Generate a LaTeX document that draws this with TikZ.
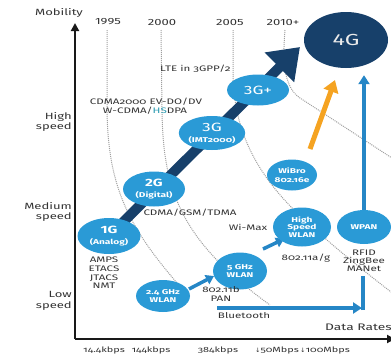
\documentclass[tikz,border=0pt]{standalone}
\usepackage{fontspec}
\setmainfont{Fira Sans}[FakeStretch=1.45]
\newfontfamily\osf{Fira Sans}[Numbers=OldStyle,FakeStretch=1.45]
\newfontfamily\symf{DejaVu Sans}[FakeStretch=1.1]
\usetikzlibrary{arrows.meta,shapes.geometric}
\definecolor{navy}{HTML}{17406A}
\definecolor{lblue}{HTML}{2A9AD6}
\definecolor{ablue}{HTML}{2586C6}
\definecolor{orng}{HTML}{F5A321}
\definecolor{txt}{HTML}{333333}
\definecolor{dots}{HTML}{A0A0A0}
\definecolor{teal2}{HTML}{2A9AB0}
\pgfdeclarelayer{bg}
\pgfdeclarelayer{mid}
\pgfsetlayers{bg,mid,main}
\tikzset{
  lbl/.style={font=\fontsize{8}{8.6}\selectfont\osf, text=txt, align=center, inner sep=0pt},
  axlbl/.style={font=\fontsize{9}{10.5}\selectfont, text=txt, align=right, inner sep=0pt, anchor=east},
  yr/.style={font=\fontsize{9}{10}\selectfont, text=txt, inner sep=0pt},
  gen/.style={ellipse, fill=lblue, text=white, inner sep=0pt, align=center},
  small/.style={font=\fontsize{7}{8.8}\selectfont\bfseries\osf},
  dotline/.style={draw=dots, densely dotted, line width=1pt},
  axis/.style={draw=black!90, line width=2.5pt, -{Triangle[length=8pt,width=8pt]}},
  barrow/.style={draw=ablue, line width=4pt, -{Triangle[length=9pt,width=11pt]}},
}
\begin{document}
\begin{tikzpicture}[x=1pt,y=-1pt]
\useasboundingbox (0,0) rectangle (391,357);

% axes
\coordinate (o) at (75,339);
\coordinate (ytip) at (75,23);
\coordinate (xtip) at (395,339);
\draw[axis] (o) -- (ytip);
\draw[axis] (o) -- (xtip);
\node[yr] (mob) at (59,13) {Mobility};
\node[font=\fontsize{9.5}{10}\selectfont, text=txt, anchor=west, inner sep=0pt] (dr) at (325,327) {Data Rates};

% years
\node[yr] (y95) at (108,22) {1995};
\node[yr] (y00) at (162,22) {2000};
\node[yr] (y05) at (230,22) {2005};
\node[yr] (y10) at (283,22) {2010+};

% speeds
\node[axlbl] (hs) at (72,122) {High\\speed};
\node[axlbl] (ms) at (72,212) {Medium\\speed};
\node[axlbl] (ls) at (72,301) {Low\\speed};

% data rates
\node[lbl, font=\fontsize{7.5}{8}\selectfont\osf] (r1) at (104,350) {14.4kbps};
\node[lbl, font=\fontsize{7.5}{8}\selectfont\osf] (r2) at (151,350) {144kbps};
\node[lbl, font=\fontsize{7.5}{8}\selectfont\osf] (r3) at (218,350) {384kbps};
\node[lbl, font=\fontsize{7.5}{8}\selectfont\osf] (r4) at (277,350) {{\symf\fontsize{6}{7}\selectfont ↓}50Mbps};
\node[lbl, font=\fontsize{7.5}{8}\selectfont\osf] (r5) at (325,350) {{\symf\fontsize{6}{7}\selectfont ↓}100Mbps};

% generation nodes
\node[gen, minimum width=63pt, minimum height=36pt] (g1) at (109,236)
  {{\fontsize{10.5}{11}\selectfont\bfseries 1G}\\[-1pt]{\fontsize{7}{7.5}\selectfont\bfseries (Analog)}};
\node[gen, minimum width=62pt, minimum height=35pt] (g2) at (154,189)
  {{\fontsize{10.5}{11}\selectfont\bfseries 2G}\\[-1pt]{\fontsize{7}{7.5}\selectfont\bfseries (Digital)}};
\node[gen, minimum width=59pt, minimum height=34pt] (g3) at (212,133)
  {{\fontsize{12}{12}\selectfont 3G}\\[-1pt]{\fontsize{7}{7.5}\selectfont\bfseries\osf (IMT2000)}};
\node[gen, minimum width=62pt, minimum height=31pt] (g3p) at (258,90)
  {{\fontsize{12}{12}\selectfont 3G+}};
\node[gen, fill=navy, text=white!92!black, minimum width=84pt, minimum height=56pt] (g4) at (346,40)
  {{\fontsize{16}{16}\selectfont 4G}};

% wireless nodes
\node[gen, small, minimum width=50pt, minimum height=31pt] (wib) at (292,175) {WiBro\\802.16e};
\node[gen, small, minimum width=58pt, minimum height=39pt] (hsw) at (302,227) {High\\[-1.5pt]Speed\\[-1.5pt]WLAN};
\node[gen, small, minimum width=54pt, minimum height=34pt] (wpan) at (364,227) {WPAN};
\node[gen, small, minimum width=54pt, minimum height=37pt] (w5) at (240,271) {5 GHz\\WLAN};
\node[gen, small, minimum width=54pt, minimum height=32pt] (w24) at (163,296) {2.4 GHz\\WLAN};

% labels
\node[lbl, anchor=west] (lte) at (160,69) {LTE in 3GPP/2};
\node[lbl] (cdma2k) at (146,102) {CDMA2000 EV-DO/DV};
\node[lbl] (wcdma) at (145,111) {W-CDMA/\textcolor{teal2}{HS}DPA};
\node[lbl] (gsm) at (190,213) {CDMA/GSM/TDMA};
\node[lbl] (wimax) at (248,227) {Wi-Max};
\node[lbl] (amps) at (104,273) {AMPS\\ETACS\\JTACS\\NMT};
\node[lbl, font=\fontsize{8}{9}\selectfont\osf] (pan) at (221,294) {802.11b\\PAN};
\node[lbl] (bt) at (244,316) {Bluetooth};
\node[lbl] (ag) at (306,258) {802.11a/g};
\node[lbl, font=\fontsize{8}{8}\selectfont\osf] (rfid) at (364,261) {RFID\\ZingBee\\MANet};

% helper coordinates
\coordinate (t4) at (300,47);
\coordinate (o0) at (310,149);
\coordinate (o1) at (335,80);
\coordinate (a0) at (189,289);
\coordinate (a1) at (214,276);
\coordinate (b0) at (263,249);
\coordinate (b1) at (284,239);
\coordinate (bt0) at (217,308);
\coordinate (bt1) at (362,308);
\coordinate (bv0) at (363,310);
\coordinate (bv1) at (363,276);

\begin{pgfonlayer}{bg}
  \draw[dotline] (107,30) -- (107,110) .. controls (108,190) and (130,230) .. (185,292);
  \draw[dotline] (161,30) -- (162,110) .. controls (163,190) and (180,240) .. (270,305);
  \draw[dotline] (233,30) -- (233,75) .. controls (234,140) and (265,185) .. (310,225)
        .. controls (340,252) and (365,272) .. (395,295);
  \draw[dotline] (285,30) .. controls (282,65) and (285,88) .. (300,98) -- (395,160);
\end{pgfonlayer}

\begin{pgfonlayer}{mid}
  \draw[navy, line width=10pt, -{Triangle[length=29pt,width=40pt]}] (g1.center) -- (t4);
  \draw[orng, line width=5pt, -{Triangle[length=12pt,width=15pt]}] (o0) -- (o1);
  \draw[barrow] (wpan.north) -- ([yshift=-7pt]wpan.north |- g4.south);
  \draw[barrow] (bt0) -- (bt1);
  \draw[ablue, line width=4pt] (bv0) -- (bv1);
  \draw[barrow, line width=3.5pt, -{Triangle[length=8pt,width=10pt]}] (a0) -- (a1);
  \draw[barrow, line width=3.5pt, -{Triangle[length=8pt,width=10pt]}] (b0) -- (b1);
\end{pgfonlayer}
\end{tikzpicture}
\end{document}
